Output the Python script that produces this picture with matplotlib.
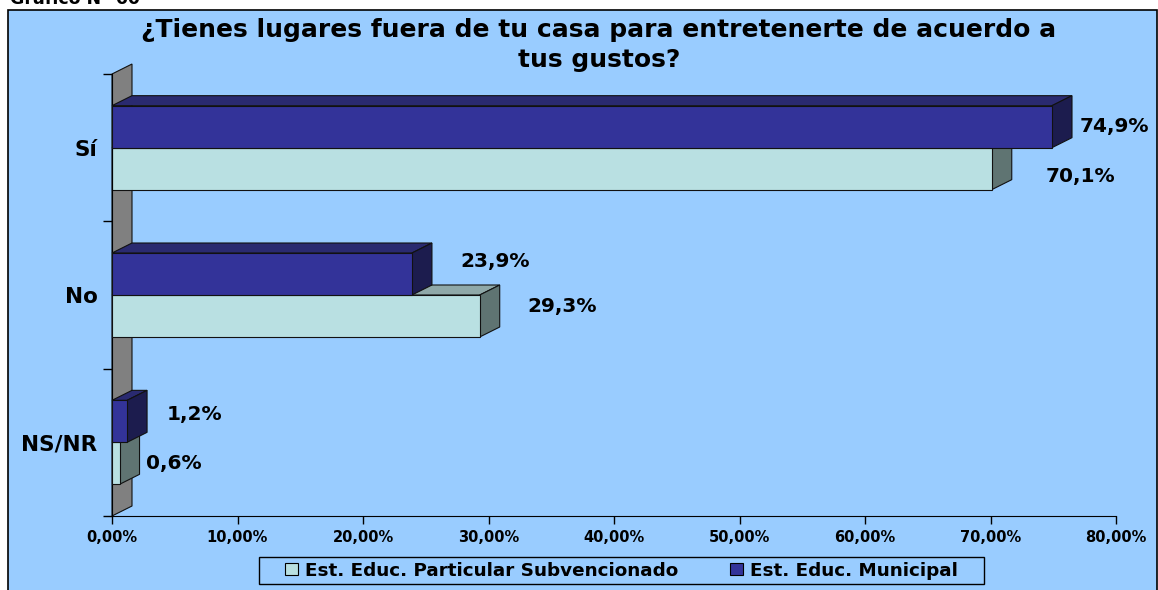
import matplotlib
matplotlib.use('Agg')
import matplotlib.pyplot as plt
import numpy as np
from matplotlib.patches import Polygon, Rectangle, Patch
from matplotlib.transforms import IdentityTransform

# ---------------- data ----------------
categories = ['Sí', 'No', 'NS/NR']
series_names = ['Est. Educ. Particular Subvencionado', 'Est. Educ. Municipal']
particular = [70.1, 29.3, 0.6]
municipal = [74.9, 23.9, 1.2]
particular_labels = ['70,1%', '29,3%', '0,6%']
municipal_labels = ['74,9%', '23,9%', '1,2%']
xticks = [0, 10, 20, 30, 40, 50, 60, 70, 80]
xtick_labels = ['0,00%', '10,00%', '20,00%', '30,00%', '40,00%',
                '50,00%', '60,00%', '70,00%', '80,00%']
title = '¿Tienes lugares fuera de tu casa para entretenerte de acuerdo a\ntus gustos?'
header = 'Gráfico N° 60'

# ---------------- style / layout ----------------
plt.rcParams['font.family'] = ['DejaVu Sans']
W, H = 1158, 590
BG = '#99CCFF'
MUN_FRONT, MUN_TOP, MUN_SIDE = '#333399', '#2A2A70', '#1C1C4E'
PAR_FRONT, PAR_TOP, PAR_SIDE = '#B9E0E2', '#8FA8A8', '#5F7472'
WALL = '#808080'
DX, DY = 20, 10          # pseudo-3D depth in pixels
BAR_H = 0.285            # bar thickness (category units)

# label offsets (pixels) relative to the bar end / bar centre
mun_off = [(62, 0), (83, 13), (67, 7)]
par_off = [(89, -8), (82, 9), (54, 0)]

fig = plt.figure(figsize=(W / 100, H / 100), dpi=100)
fig.patch.set_facecolor('white')

# chart area
fig.patches.append(Rectangle((8 / W, -0.05), (1157 - 8) / W, 1 - 10 / H + 0.05,
                             transform=fig.transFigure, facecolor=BG,
                             edgecolor='black', linewidth=1.2, zorder=-5))

fig.text(10 / W, 1 - 4 / H, header, fontsize=12.5, fontweight='bold',
         ha='left', va='baseline')
fig.text(599 / W, 1 - 45 / H, title, fontsize=18, fontweight='bold',
         ha='center', va='center', linespacing=1.27)

x0, x1 = 112, 1116
ytop, ybot = 74, 516
ax = fig.add_axes([x0 / W, (H - ybot) / H, (x1 - x0) / W, (ybot - ytop) / H])
ax.set_facecolor('none')
ax.set_zorder(2)
ax.set_xlim(0, 80)
ax.set_ylim(2.5, -0.5)

for s in ['top', 'right']:
    ax.spines[s].set_visible(False)
ax.spines['bottom'].set_color('black')
ax.spines['left'].set_color('black')
ax.spines['bottom'].set_zorder(5)

ax.set_xticks(xticks)
ax.set_xticklabels(xtick_labels, fontsize=10.5, fontweight='bold')
ax.tick_params(axis='x', direction='out', length=6, width=1, color='black', pad=4)

ax.set_yticks([0, 1, 2])
ax.set_yticklabels(categories, fontsize=15.5, fontweight='bold')
ax.tick_params(axis='y', which='major', length=0, pad=10.5)
ax.set_yticks([-0.5, 0.5, 1.5, 2.5], minor=True)
ax.tick_params(axis='y', which='minor', direction='out', length=6.5, width=1, color='black')

d = np.array([DX, DY])


def px(x, y):
    return np.array(ax.transData.transform((x, y)))


def add_poly(pts, fc, z):
    p = Polygon(pts, closed=True, facecolor=fc, edgecolor='#111111',
                linewidth=0.8, transform=IdentityTransform(), zorder=z)
    ax.add_artist(p)
    p.set_clip_on(False)


# left wall
a, b = px(0, 2.5), px(0, -0.5)
add_poly([a, b, b + d, a + d], WALL, 1)

z = 2
for i, cat in enumerate(categories):
    # lower bar: particular (drawn first), upper bar: municipal
    for val, y_t, y_b, cols in [
        (particular[i], i, i + BAR_H, (PAR_FRONT, PAR_TOP, PAR_SIDE)),
        (municipal[i], i - BAR_H, i, (MUN_FRONT, MUN_TOP, MUN_SIDE)),
    ]:
        bl, tl = px(0, y_b), px(0, y_t)
        tr, br = px(val, y_t), px(val, y_b)
        add_poly([tl, tl + d, tr + d, tr], cols[1], z)
        add_poly([br, tr, tr + d, br + d], cols[2], z)
        add_poly([bl, tl, tr, br], cols[0], z + 0.1)
        z += 1

for i in range(len(categories)):
    ax.annotate(municipal_labels[i], xy=(municipal[i], i - BAR_H / 2),
                xytext=mun_off[i], textcoords='offset pixels',
                ha='center', va='center', fontsize=14.5, fontweight='bold',
                annotation_clip=False, zorder=20)
    ax.annotate(particular_labels[i], xy=(particular[i], i + BAR_H / 2),
                xytext=par_off[i], textcoords='offset pixels',
                ha='center', va='center', fontsize=14.5, fontweight='bold',
                annotation_clip=False, zorder=20)

# legend frame
fig.patches.append(Rectangle((259 / W, 1 - 584 / H), (984 - 259) / W, 27 / H,
                             transform=fig.transFigure, facecolor=BG,
                             edgecolor='black', linewidth=1, zorder=-1))
handles = [Patch(facecolor=PAR_FRONT, edgecolor='black', linewidth=0.8),
           Patch(facecolor=MUN_FRONT, edgecolor='black', linewidth=0.8)]
leg = fig.legend(handles, series_names, loc='center',
                 bbox_to_anchor=((259 + 984) / 2 / W, 1 - (557 + 584) / 2 / H),
                 ncol=2, frameon=False,
                 prop={'size': 13.2, 'weight': 'bold'},
                 handlelength=0.72, handleheight=0.65, handletextpad=0.38,
                 columnspacing=2.8, borderpad=0.0, borderaxespad=0)

fig.savefig('out.png', dpi=100, facecolor='white')
